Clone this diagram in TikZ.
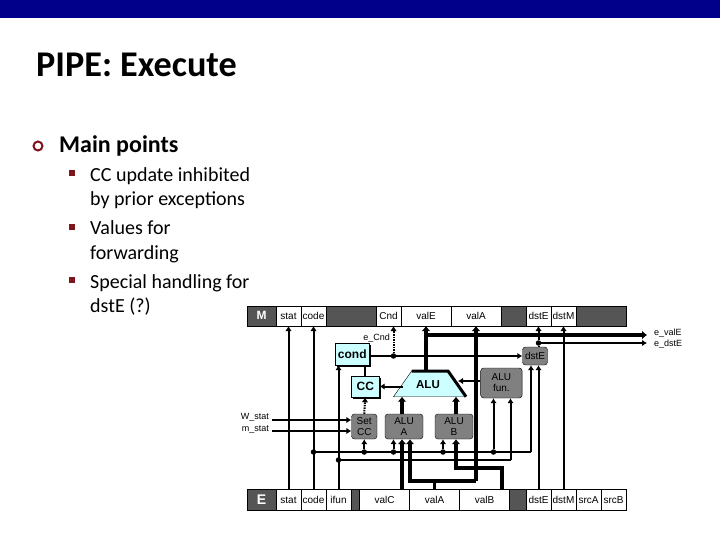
\documentclass[tikz,border=0pt]{standalone}
\usepackage{fontspec}
\setmainfont{Carlito}
\newfontfamily\labelfont{Liberation Sans}
\usetikzlibrary{shapes.geometric, arrows.meta, positioning, shadows}

\definecolor{barblue}{RGB}{0,0,139}
\definecolor{bulletred}{RGB}{128,20,28}
\definecolor{regdark}{RGB}{85,85,85}
\definecolor{hclblue}{RGB}{204,255,255}

\begin{document}
\begin{tikzpicture}[x=1pt, y=-1pt]
    % Node styles
    \tikzstyle{cell} = [rectangle, draw, fill=white, minimum height=20pt, inner sep=0pt, outer sep=0pt, text height=7.5pt, text depth=0pt, font=\labelfont\fontsize{10}{11}\selectfont]
    \tikzstyle{darkcell} = [cell, fill=regdark, text=white, font=\labelfont\bfseries\fontsize{12}{13}\selectfont]
    \tikzstyle{hcl} = [rectangle, draw, fill=gray, rounded corners=3pt, inner sep=0pt, align=center, font=\labelfont\fontsize{10}{11}\selectfont]
    \tikzstyle{unit} = [rectangle, draw, fill=hclblue, inner sep=0pt, font=\labelfont\bfseries\fontsize{12}{13}\selectfont, drop shadow={opacity=1, fill=black, shadow xshift=1.5pt, shadow yshift=-1.5pt}]
    \tikzstyle{sig} = [inner sep=0pt, font=\labelfont\fontsize{9}{10}\selectfont]
    \tikzstyle{dot} = [circle, fill=black, inner sep=0pt, minimum size=5.5pt]
    \tikzstyle{wire} = [-{Latex[length=5pt, width=6.5pt]}, line width=2pt]
    \tikzstyle{plainwire} = [line width=2pt]
    \tikzstyle{bus} = [-{Latex[length=5pt, width=9pt]}, line width=4.3pt]
    \tikzstyle{ctl} = [wire, dash pattern=on 1.5pt off 1pt]
    \tikzstyle{bulletsq} = [rectangle, fill=bulletred, inner sep=0pt, minimum size=6pt]
    \tikzstyle{heading} = [anchor=base west, inner sep=0pt]
    \tikzstyle{point} = [heading, font=\fontsize{20}{24}\selectfont]

    \useasboundingbox (0,0) rectangle (720,540);

    % Slide text
    \fill[barblue] (0,0) rectangle (720,18.5);
    \node (title) [heading, font=\bfseries\fontsize{36.2}{40}\selectfont] at (36,76.5) {PIPE: Execute};
    \node (mainbullet) [circle, draw=bulletred, line width=2pt, inner sep=0pt, minimum size=9pt] at (38,146) {};
    \node (main) [heading, font=\bfseries\fontsize{24}{28}\selectfont] at (59,152.5) {Main points};
    \node (bulleta) [bulletsq] at (71.7,173.5) {};
    \node (pointa) [point] at (90,182) {CC update inhibited};
    \node (pointb) [point] at (90,206) {by prior exceptions};
    \node (bulletb) [bulletsq] at (71.7,226.7) {};
    \node (pointc) [point] at (90,235) {Values for};
    \node (pointd) [point] at (90,259) {forwarding};
    \node (bulletc) [bulletsq] at (71.7,279.5) {};
    \node (pointe) [point] at (90,288) {Special handling for};
    \node (pointf) [point] at (90,312) {dstE (?)};

    % Memory register
    \node (mlabel) [darkcell, minimum width=29pt] at (261.5,316) {M};
    \node (mstat) [cell, minimum width=25pt, right=0pt of mlabel] {stat};
    \node (mcode) [cell, minimum width=25pt, right=0pt of mstat] {code};
    \node (mgapa) [cell, fill=regdark, minimum width=50pt, right=0pt of mcode] {};
    \node (mcnd) [cell, minimum width=25pt, right=0pt of mgapa] {Cnd};
    \node (mvale) [cell, minimum width=50pt, right=0pt of mcnd] {valE};
    \node (mvala) [cell, minimum width=50pt, right=0pt of mvale] {valA};
    \node (mgapb) [cell, fill=regdark, minimum width=25pt, right=0pt of mvala] {};
    \node (mdste) [cell, minimum width=25pt, right=0pt of mgapb] {dstE};
    \node (mdstm) [cell, minimum width=25pt, right=0pt of mdste] {dstM};
    \node (mgapc) [cell, fill=regdark, minimum width=50pt, right=0pt of mdstm] {};

    % Execute register
    \node (elabel) [darkcell, minimum width=29pt, minimum height=21pt, text height=10pt, font=\labelfont\bfseries\fontsize{14}{15}\selectfont] at (261.5,499.5) {E};
    \node (estat) [cell, minimum width=25pt, minimum height=21pt, right=0pt of elabel] {stat};
    \node (ecode) [cell, minimum width=25pt, minimum height=21pt, right=0pt of estat] {code};
    \node (eifun) [cell, minimum width=25pt, minimum height=21pt, right=0pt of ecode] {ifun};
    \node (egapa) [cell, fill=regdark, minimum width=8.5pt, minimum height=21pt, right=0pt of eifun] {};
    \node (evalc) [cell, minimum width=50pt, minimum height=21pt, right=0pt of egapa] {valC};
    \node (evala) [cell, minimum width=50pt, minimum height=21pt, right=0pt of evalc] {valA};
    \node (evalb) [cell, minimum width=50pt, minimum height=21pt, right=0pt of evala] {valB};
    \node (egapb) [cell, fill=regdark, minimum width=16.5pt, minimum height=21pt, right=0pt of evalb] {};
    \node (edste) [cell, minimum width=25pt, minimum height=21pt, right=0pt of egapb] {dstE};
    \node (edstm) [cell, minimum width=25pt, minimum height=21pt, right=0pt of edste] {dstM};
    \node (esrca) [cell, minimum width=25pt, minimum height=21pt, right=0pt of edstm] {srcA};
    \node (esrcb) [cell, minimum width=25pt, minimum height=21pt, right=0pt of esrca] {srcB};

    % ALU outline
    \coordinate (alubl) at (393.5,396.7);
    \coordinate (alutl) at (411.7,371);
    \coordinate (alutr) at (448,371);
    \coordinate (alubr) at (466,396.7);
    \fill[hclblue] (alubl) -- (alutl) -- (alutr) -- (alubr) -- cycle;
    \draw (alubr) -- (alubl) -- (alutl);
    \draw[line width=3pt] (alutl) -- (alutr) -- (alubr);

    % Blocks
    \node (cond) [unit, minimum width=33.5pt, minimum height=21.5pt] at (352.25,354.25) {cond};
    \node (cc) [unit, minimum width=28.5pt, minimum height=21pt] at (365.25,386.5) {CC};
    \node (alu) [inner sep=0pt, font=\labelfont\bfseries\fontsize{11.5}{12}\selectfont] at (428,385) {ALU};
    \node (setcc) [hcl, minimum width=25.5pt, minimum height=25pt] at (364.25,426.5) {Set\\CC};
    \node (alua) [hcl, minimum width=38pt, minimum height=25pt] at (404,426.5) {ALU\\A};
    \node (alub) [hcl, minimum width=38pt, minimum height=25pt] at (454,426.5) {ALU\\B};
    \node (alufun) [hcl, minimum width=41.5pt, minimum height=30pt] at (501.4,383) {ALU\\fun.};
    \node (dste) [hcl, minimum width=25pt, minimum height=18pt] at (535,356) {dstE};

    % Signal labels
    \node (ecndlabel) [sig, anchor=east] at (390,338) {e\_Cnd};
    \node (wstat) [sig, anchor=east] at (269,417.5) {W\_stat};
    \node (mstatin) [sig, anchor=east] at (269,429.5) {m\_stat};
    \node (evalelabel) [sig, anchor=west] at (654,333) {e\_valE};
    \node (edstelabel) [sig, anchor=west] at (654,344) {e\_dstE};

    % Junctions
    \coordinate (valeout) at (426,335);
    \coordinate (valeend) at (647,335);
    \coordinate (dsteend) at (647,343);
    \coordinate (valabend) at (476,481);
    \coordinate (valacorner) at (410,481);
    \coordinate (valbbend) at (502,467.7);
    \coordinate (valbcorner) at (456,467.7);
    \coordinate (valcline) at (402,439);
    \coordinate (wstatin) at (272,420);
    \coordinate (mstatend) at (272,431);
    \coordinate (codeturn) at (531,452);
    \coordinate (ifunturn) at (510.5,460);
    \coordinate (alufunin) at (458,381);
    \coordinate (aluccout) at (403,386.5);
    \node (dstejoin) [dot] at (538.5,343) {};
    \node (cndjoin) [dot] at (393.5,356) {};
    \node (codejoin) [dot] at (313.5,452) {};
    \node (setccjoin) [dot] at (364.25,452) {};
    \node (aluajoin) [dot] at (393.5,452) {};
    \node (alubjoin) [dot] at (443,452) {};
    \node (funjoin) [dot] at (493.5,452) {};
    \node (ifunjoin) [dot] at (338.5,460) {};

    % Thin wires
    \draw[wire] (estat) -- (mstat);
    \draw[wire] (ecode) -- (mcode);
    \draw[wire] (eifun) -- (eifun.north |- cond.south);
    \draw[wire] (edste) -- (edste.north |- dste.south);
    \draw[wire] (edstm) -- (mdstm);
    \draw[wire] (dstejoin) -- (dstejoin |- mdste.south);
    \draw[plainwire] (dstejoin) -- (dstejoin |- dste.north);
    \draw[wire] (dstejoin) -- (dsteend);
    \draw[wire] (cond.east |- dste.west) -- (dste.west);
    \draw[plainwire] (cc.north) -- (cc.north |- cond.south);
    \draw[wire] (aluccout) -- (cc.east);
    \draw[wire] (alufun.west |- alufunin) -- (alufunin);
    \draw[wire] (wstatin) -- (wstatin -| setcc.west);
    \draw[wire] (mstatend) -- (mstatend -| setcc.west);

    % Control wires
    \draw[plainwire] (codejoin) -- (codeturn);
    \draw[wire] (codeturn) -- (codeturn |- dste.south);
    \draw[wire] (setccjoin) -- (setcc.south);
    \draw[wire] (aluajoin) -- (aluajoin |- alua.south);
    \draw[wire] (alubjoin) -- (alubjoin |- alub.south);
    \draw[wire] (funjoin) -- (funjoin |- alufun.south);
    \draw[plainwire] (ifunjoin) -- (ifunturn);
    \draw[wire] (ifunturn) -- (ifunturn |- alufun.south);

    % Dotted condition wires
    \draw[ctl] (cndjoin) -- (cndjoin |- mcnd.south);
    \draw[ctl] (setcc.north) -- (cc.south);

    % Data buses
    \draw[bus] (alutl -| mvale.south) -- (mvale.south);
    \draw[bus] (valeout) -- (valeend);
    \draw[bus] (valabend) -- (mvala.south);
    \draw[bus] (valabend) -- (valacorner) -- (valacorner |- alua.south);
    \draw[line width=3.5pt] (evala.north) -- (evala.north |- valabend);
    \draw[bus] (valcline |- evalc.north) -- (valcline |- alua.south);
    \draw[bus] (valcline |- alua.north) -- (valcline |- alubl);
    \draw[bus] (valbcorner |- alub.north) -- (valbcorner |- alubl);
    \draw[bus] (valbbend |- evalb.north) -- (valbbend) -- (valbcorner) -- (valbcorner |- alub.south);
\end{tikzpicture}
\end{document}
